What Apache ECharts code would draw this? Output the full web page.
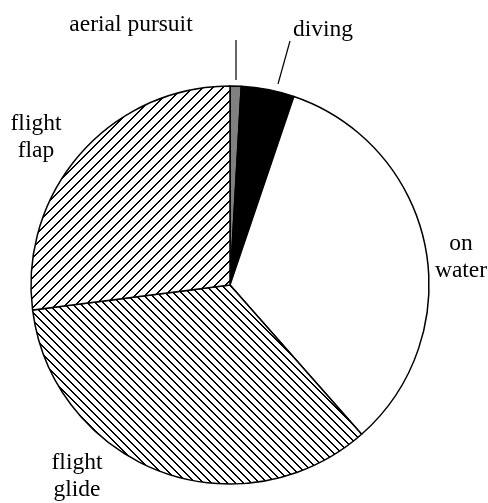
<!DOCTYPE html>
<html>
<head>
<meta charset="utf-8">
<style>
html,body{margin:0;padding:0;background:#fff;}
#chart{width:488px;height:503px;}
</style>
<script src="https://cdn.jsdelivr.net/npm/echarts@6/dist/echarts.min.js"></script>
</head>
<body>
<div id="chart"></div>
<script>
// Data (clockwise from 12 o'clock), percentages of time
var categories = ['aerial pursuit', 'diving', 'on water', 'flight glide', 'flight flap'];
var labelTexts = ['aerial pursuit', 'diving', 'on\nwater', 'flight\nglide', 'flight\nflap'];
var values = [0.9, 4.3, 33.3, 34.5, 27.0];

// Label layout (pixel positions of label centres), styles
var labelPos = [[131, 25], [323, 30], [461, 257], [77, 476], [36, 137]];
var leaderLines = [[[236, 80], [236, 40]], [[278, 84], [290, 41]], null, null, null];

function hatch(n, dir) {
  var c = document.createElement('canvas');
  c.width = n; c.height = n;
  var ctx = c.getContext('2d');
  ctx.fillStyle = '#fff';
  ctx.fillRect(0, 0, n, n);
  ctx.fillStyle = '#000';
  for (var i = 0; i < n; i++) {
    var y = dir === '/' ? n - 1 - i : i;
    ctx.fillRect(i, y, 2, 1);
    if (i + 2 > n) ctx.fillRect(i - n, y, 2, 1);
  }
  return c;
}

var fills = [
  '#808080',
  '#000000',
  '#ffffff',
  { image: hatch(8, '\\'), repeat: 'repeat' },
  { image: hatch(10, '/'), repeat: 'repeat' }
];

var chart = echarts.init(document.getElementById('chart'), null, { renderer: 'canvas' });
var data = categories.map(function (name, i) {
  return {
    name: name,
    value: values[i],
    itemStyle: { color: fills[i] },
    label: { formatter: labelTexts[i] },
    labelLine: { show: leaderLines[i] !== null }
  };
});

chart.setOption({
  animation: false,
  series: [{
    type: 'pie',
    center: [230, 285],
    radius: 199,
    startAngle: 90,
    clockwise: true,
    avoidLabelOverlap: false,
    data: data,
    itemStyle: { borderColor: '#000', borderWidth: 1.5 },
    emphasis: { disabled: true },
    label: {
      show: true,
      position: 'outside',
      fontFamily: 'Liberation Serif',
      fontSize: 23.5,
      lineHeight: 27,
      color: '#000',
      align: 'center'
    },
    labelLine: {
      show: true,
      lineStyle: { color: '#000', width: 1.2 }
    },
    labelLayout: function (params) {
      var i = params.dataIndex;
      var o = {
        x: labelPos[i][0],
        y: labelPos[i][1],
        align: 'center',
        verticalAlign: 'middle'
      };
      if (leaderLines[i]) o.labelLinePoints = leaderLines[i];
      return o;
    }
  }]
});
</script>
</body>
</html>
